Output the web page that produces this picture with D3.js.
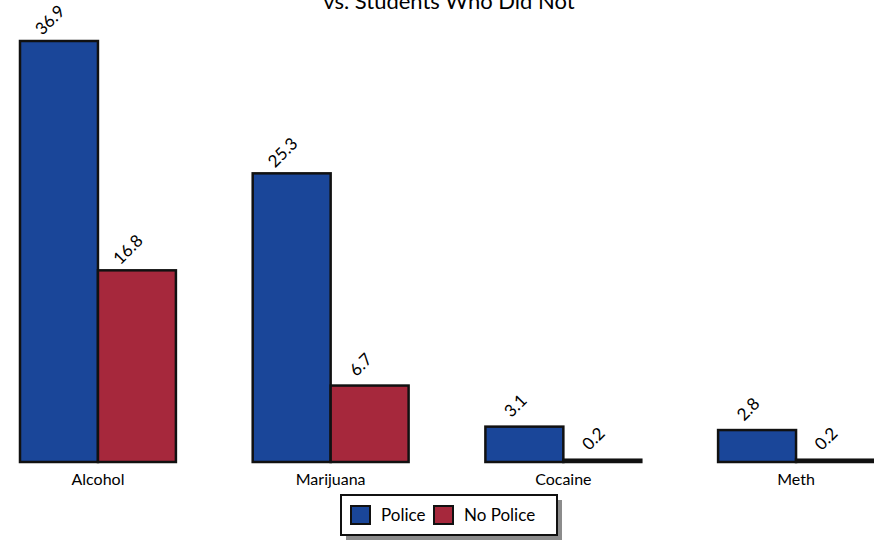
<!DOCTYPE html>
<html>
<head>
<meta charset="utf-8">
<script src="https://cdn.jsdelivr.net/npm/d3@7"></script>
<style>
  body { margin: 0; background: #fff; }
  svg { display: block; font-family: Lato, "Open Sans", sans-serif; }
</style>
</head>
<body>
<div id="vis"></div>
<script>
// chart data
const categories = ["Alcohol", "Marijuana", "Cocaine", "Meth"]
const seriesNames = ["Police", "No Police"]
const policeValues = [36.9, 25.3, 3.1, 2.8]
const noPoliceValues = [16.8, 6.7, 0.2, 0.2]
const colors = ["#1a4699", "#a6283c"]

const width = 874
const height = 542
const margin = {top: 0, right: 0, bottom: 80, left: 20}
const baseY = 462

const svg = d3.select("#vis").append("svg")
    .attr("width", width)
    .attr("height", height)

// build rows from the arrays
const data = categories.map((c, i) => ({
    name: c,
    values: [policeValues[i], noPoliceValues[i]]
}))

// group scale
const x0 = d3.scaleBand()
    .domain(categories)
    .range([margin.left, width - margin.right])
    .paddingInner(0.33)
    .paddingOuter(0)

// bar scale inside each group
const x1 = d3.scaleBand()
    .domain(seriesNames)
    .range([0, x0.bandwidth()])

const y = d3.scaleLinear()
    .domain([0, 36.9])
    .range([baseY, 41])

// title, its top is clipped by the page edge like in the source
svg.append("text")
    .attr("x", 449)
    .attr("y", 9)
    .attr("text-anchor", "middle")
    .style("font-size", "22px")
    .attr("fill", "#000")
    .text("vs. Students Who Did Not")

const groups = svg.selectAll(".group")
    .data(data)
    .enter()
    .append("g")
    .attr("class", "group")
    .attr("transform", d => "translate(" + x0(d.name) + ",0)")

groups.selectAll("rect")
    .data(d => d.values.map((v, i) => ({key: seriesNames[i], value: v, i: i})))
    .enter()
    .append("rect")
    .attr("x", d => x1(d.key))
    .attr("y", d => y(d.value))
    .attr("width", x1.bandwidth())
    .attr("height", d => baseY - y(d.value))
    .attr("fill", d => colors[d.i])
    .attr("stroke", "#111")
    .attr("stroke-width", 2.5)

// rotated value labels
groups.selectAll(".val")
    .data(d => d.values.map((v, i) => ({key: seriesNames[i], value: v})))
    .enter()
    .append("text")
    .attr("class", "val")
    .attr("transform", d => {
        const cx = x1(d.key) + x1.bandwidth() / 2 - 9
        const cy = y(d.value) - 21
        return "translate(" + cx + "," + cy + ")rotate(-45)"
    })
    .attr("text-anchor", "middle")
    .attr("dy", "0.35em")
    .style("font-size", "17px")
    .text(d => d.value.toFixed(1))

// category axis labels
svg.append("g")
    .attr("transform", "translate(0," + baseY + ")")
    .call(d3.axisBottom(x0).tickSize(0).tickPadding(12))
    .call(g => g.select(".domain").remove())
    .selectAll("text")
    .style("font-family", "Lato, 'Open Sans', sans-serif")
    .style("font-size", "16px")
    .attr("fill", "#000")

// legend
const legend = svg.append("g").attr("transform", "translate(341,495)")
legend.append("rect")
    .attr("x", 5).attr("y", 5)
    .attr("width", 216).attr("height", 40)
    .attr("fill", "#8c8c8c")
legend.append("rect")
    .attr("width", 216).attr("height", 40)
    .attr("fill", "#fff")
    .attr("stroke", "#111")
    .attr("stroke-width", 2)

const legendX = [10, 93]
seriesNames.forEach((s, i) => {
    legend.append("rect")
        .attr("x", legendX[i]).attr("y", 11)
        .attr("width", 19).attr("height", 18)
        .attr("fill", colors[i])
        .attr("stroke", "#111")
        .attr("stroke-width", 2)
    legend.append("text")
        .attr("x", legendX[i] + 30).attr("y", 20)
        .attr("dy", "0.35em")
        .style("font-size", "17px")
        .text(s)
})
</script>
</body>
</html>
